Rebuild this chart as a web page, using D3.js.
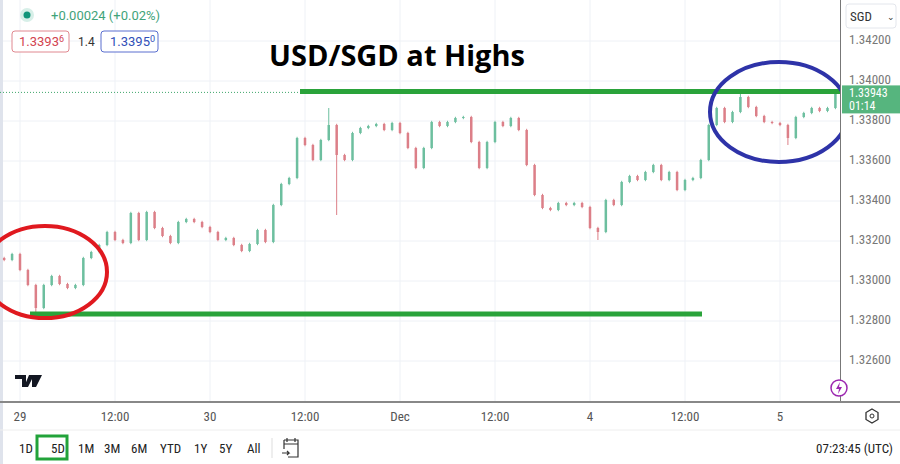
<!DOCTYPE html>
<html><head><meta charset="utf-8">
<script src="https://cdn.jsdelivr.net/npm/d3@7"></script>
<style>body{margin:0;background:#fff;font-family:"Liberation Sans Narrow","Roboto Condensed",Roboto,sans-serif}</style>
</head><body>
<svg id="chart" width="900" height="464"></svg>
<script>
// hourly closes, hour index 0 = 29 Nov 00:00 (weekend skipped)
var startHour = -2;
var closes = [1.33105,1.33135,1.33055,1.32980,1.32865,1.32980,1.33025,1.32985,1.32965,1.32980,
  1.33115,1.33145,1.33180,1.33245,1.33205,1.33190,1.33340,1.33205,1.33345,1.33265,
  1.33225,1.33190,1.33295,1.33310,1.33295,1.33270,1.33245,1.33205,1.33215,1.33180,
  1.33150,1.33185,1.33255,1.33195,1.33380,1.33485,1.33515,1.33715,1.33680,1.33605,
  1.33705,1.33780,1.33630,1.33605,1.33740,1.33765,1.33775,1.33785,1.33755,1.33790,
  1.33740,1.33665,1.33565,1.33665,1.33795,1.33775,1.33795,1.33815,1.33820,1.33695,
  1.33565,1.33695,1.33795,1.33775,1.33815,1.33755,1.33580,1.33430,1.33365,1.33355,
  1.33390,1.33380,1.33390,1.33370,1.33265,1.33245,1.33405,1.33380,1.33495,1.33525,
  1.33505,1.33545,1.33580,1.33505,1.33545,1.33455,1.33505,1.33515,1.33605,1.33780,
  1.33865,1.33795,1.33845,1.33920,1.33870,1.33825,1.33795,1.33790,1.33780,1.33715,
  1.33820,1.33840,1.33865,1.33850,1.33865,1.33943];
// notable wick extremes: [candle index, price]
var spikes = [[4,1.32845],[41,1.33865],[42,1.33330],[75,1.33205],[99,1.33680],[93,1.33935]];
var priceTicks = [1.342,1.340,1.338,1.336,1.334,1.332,1.330,1.328,1.326];
var timeTicks = [0,12,24,36,48,60,72,84,96];
var timeLabels = ["29","12:00","30","12:00","Dec","12:00","4","12:00","5"];
var highLevel = 1.33943, lowLevel = 1.32835;
var lastPrice = 1.33943;
var ranges = ["1D","5D","1M","3M","6M","YTD","1Y","5Y","All"];

var svg = d3.select('#chart');
var x = d3.scaleLinear().domain([0,96]).range([20,780]);
var y = d3.scaleLinear().domain([1.326,1.342]).range([361,41]);
var grid = '#eef1f6';

// grid
svg.selectAll('.hg').data(priceTicks).enter().append('line')
  .attr('x1',0).attr('x2',840).attr('y1',d=>y(d)).attr('y2',d=>y(d)).attr('stroke',grid);
svg.selectAll('.vg').data(timeTicks).enter().append('line')
  .attr('x1',d=>x(d)).attr('x2',d=>x(d)).attr('y1',0).attr('y2',402).attr('stroke',grid);
svg.append('rect').attr('x',0).attr('y',0).attr('width',3).attr('height',464).attr('fill','#dfe3ec');

// candles
var candles = closes.map(function(c,i){
  var o = i ? closes[i-1] : c + 0.0001;
  var hi = Math.max(o,c) + 0.00006, lo = Math.min(o,c) - 0.00006;
  spikes.forEach(function(s){ if(s[0]===i){ if(s[1]>hi) hi=s[1]; if(s[1]<lo) lo=s[1]; } });
  return {h:startHour+i,o:o,c:c,hi:hi,lo:lo};
});
var up = '#6dbf9f', down = '#dc7f88';
var g = svg.append('g');
g.selectAll('line').data(candles).enter().append('line')
  .attr('x1',d=>x(d.h)).attr('x2',d=>x(d.h)).attr('y1',d=>y(d.hi)).attr('y2',d=>y(d.lo))
  .attr('stroke',d=>d.c>=d.o?up:down).attr('stroke-width',1);
g.selectAll('rect').data(candles).enter().append('rect')
  .attr('x',d=>x(d.h)-1.25).attr('width',2.5)
  .attr('y',d=>y(Math.max(d.o,d.c))).attr('height',d=>Math.max(1,Math.abs(y(d.o)-y(d.c))))
  .attr('fill',d=>d.c>=d.o?up:down);

// last price dotted line
svg.append('line').attr('x1',0).attr('x2',840).attr('y1',y(lastPrice)).attr('y2',y(lastPrice))
  .attr('stroke','#3fa66b').attr('stroke-dasharray','1,2');

// annotations
svg.append('line').attr('x1',300).attr('x2',850).attr('y1',y(highLevel)-1).attr('y2',y(highLevel)-1)
  .attr('stroke','#2aa33a').attr('stroke-width',5);
svg.append('line').attr('x1',30).attr('x2',702).attr('y1',y(lowLevel)).attr('y2',y(lowLevel))
  .attr('stroke','#2aa33a').attr('stroke-width',5);
svg.append('ellipse').attr('cx',45).attr('cy',272).attr('rx',62).attr('ry',46)
  .attr('fill','none').attr('stroke','#e0191f').attr('stroke-width',4);
svg.append('ellipse').attr('cx',779).attr('cy',112).attr('rx',69).attr('ry',50)
  .attr('fill','none').attr('stroke','#2e33a8').attr('stroke-width',4);

svg.append('text').attr('x',397).attr('y',66).attr('text-anchor','middle')
  .attr('font-family','"Open Sans",sans-serif').attr('font-weight','bold').attr('font-size',29)
  .text('USD/SGD at Highs');

// header
svg.append('circle').attr('cx',27).attr('cy',15).attr('r',7).attr('fill','#d7efe8');
svg.append('circle').attr('cx',27).attr('cy',15).attr('r',3.5).attr('fill','#12957a');
svg.append('text').attr('x',51).attr('y',20).attr('font-size',13).attr('fill','#3fa37a')
  .attr('font-family','Roboto,sans-serif').text('+0.00024 (+0.02%)');
svg.append('rect').attr('x',12).attr('y',31).attr('width',57).attr('height',21).attr('rx',3)
  .attr('fill','#fff').attr('stroke','#e08890');
svg.append('text').attr('x',19).attr('y',46).attr('font-size',13).attr('fill','#d2434f')
  .attr('font-family','Roboto,sans-serif').html('1.3393<tspan font-size="9" dy="-4">6</tspan>');
svg.append('text').attr('x',78).attr('y',46).attr('font-size',12).attr('fill','#333')
  .attr('font-family','Roboto,sans-serif').text('1.4');
svg.append('rect').attr('x',101).attr('y',31).attr('width',57).attr('height',21).attr('rx',3)
  .attr('fill','#fff').attr('stroke','#5a6fcf');
svg.append('text').attr('x',110).attr('y',46).attr('font-size',13).attr('fill','#2f4fb8')
  .attr('font-family','Roboto,sans-serif').html('1.3395<tspan font-size="9" dy="-4">0</tspan>');

// price axis
svg.append('rect').attr('x',841).attr('y',0).attr('width',59).attr('height',402).attr('fill','#fff');
svg.append('line').attr('x1',840.5).attr('x2',840.5).attr('y1',0).attr('y2',402).attr('stroke','#777');
svg.append('rect').attr('x',846).attr('y',4).attr('width',50).attr('height',24).attr('rx',3)
  .attr('fill','#fff').attr('stroke','#e3e6ec');
svg.append('text').attr('x',850).attr('y',21).attr('font-size',13).attr('fill','#333').text('SGD');
svg.append('text').attr('x',887).attr('y',20).attr('font-size',9).attr('fill','#333').text('⌄');
svg.selectAll('.pt').data(priceTicks).enter().append('text')
  .attr('x',849).attr('y',d=>y(d)+3).attr('font-size',13).attr('fill','#777')
  .text(d=>d3.format('.5f')(d));
var ly = y(lastPrice);
svg.append('rect').attr('x',842).attr('y',ly-7).attr('width',58).attr('height',28).attr('fill','#56b57e');
svg.append('text').attr('x',849).attr('y',ly+5).attr('font-size',12).attr('fill','#fff').text(d3.format('.5f')(lastPrice));
svg.append('text').attr('x',849).attr('y',ly+18).attr('font-size',12).attr('fill','#fff').text('01:14');

// time axis
svg.append('line').attr('x1',0).attr('x2',900).attr('y1',402).attr('y2',402).attr('stroke','#888').attr('stroke-width',2);
svg.selectAll('.tt').data(timeTicks).enter().append('text')
  .attr('x',d=>x(d)).attr('y',421).attr('text-anchor','middle').attr('font-size',13).attr('fill','#555')
  .text((d,i)=>timeLabels[i]);
svg.append('polygon').attr('points','872,409 878,412.5 878,419.5 872,423 866,419.5 866,412.5')
  .attr('fill','none').attr('stroke','#333').attr('stroke-width',1.3);
svg.append('circle').attr('cx',872).attr('cy',416).attr('r',2).attr('fill','none').attr('stroke','#333');
svg.append('line').attr('x1',0).attr('x2',900).attr('y1',430).attr('y2',430).attr('stroke','#eee');

// logo and lightning
svg.append('path').attr('d','M15,375 h11 v12 h-4 v-8 h-7 z M29,375 h5 l-6,12 h-4 z M32,375 h10 l-6,12 h-4 z')
  .attr('fill','#131722');
svg.append('circle').attr('cx',839).attr('cy',388).attr('r',8).attr('fill','#fff').attr('stroke','#9c27b0').attr('stroke-width',1.5);
svg.append('path').attr('d','M840,382 l-4,7 h3 l-1,5 l4,-7 h-3 z').attr('fill','#9c27b0');

// range buttons
var bx = [19,51,78,104,131,160,194,219,247];
svg.append('rect').attr('x',37).attr('y',436).attr('width',30).attr('height',23).attr('fill','#fff')
  .attr('stroke','#22a33a').attr('stroke-width',3);
svg.selectAll('.rb').data(ranges).enter().append('text')
  .attr('x',(d,i)=>bx[i]).attr('y',453).attr('font-size',13).attr('fill','#222').text(d=>d);
svg.append('line').attr('x1',272).attr('x2',272).attr('y1',438).attr('y2',458).attr('stroke','#ddd');
svg.append('path').attr('d','M284,440 h14 v17 h-10 M284,440 v9 M284,444 h14 M287,438 v4 M295,438 v4 M282,453 h7 l-2,-2 M289,453 l-2,2')
  .attr('fill','none').attr('stroke','#333').attr('stroke-width',1.2);
svg.append('text').attr('x',893).attr('y',453).attr('text-anchor','end').attr('font-size',13).attr('fill','#222').text('07:23:45 (UTC)');
</script>
</body></html>
